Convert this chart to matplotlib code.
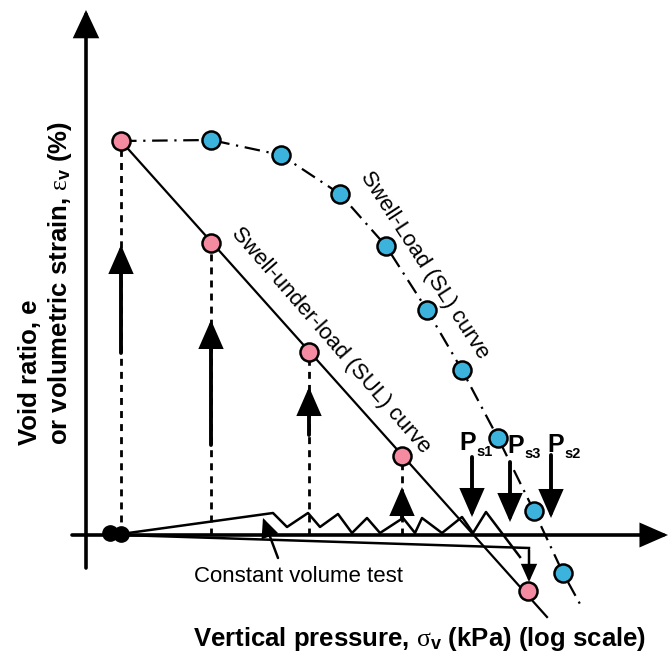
import matplotlib
matplotlib.use('Agg')
import matplotlib.pyplot as plt

plt.rcParams['font.family'] = ['Liberation Sans', 'DejaVu Sans']
plt.rcParams['mathtext.fontset'] = 'custom'
plt.rcParams['mathtext.it'] = 'Liberation Serif'
plt.rcParams['mathtext.rm'] = 'Liberation Serif'
plt.rcParams['mathtext.sf'] = 'Liberation Sans:bold'

# schematic units: x = log vertical pressure, y = volumetric strain
# swell-under-load (SUL) test points
sul_x = [3.5, 12.5, 22.3, 31.6, 44.2]
sul_y = [39.4, 29.2, 18.3, 7.9, -5.6]
sul_end = (46.1, -8.2)

# swell-load (SL) test points
sl_x = [12.5, 19.5, 25.4, 30.0, 34.1, 37.6, 41.2, 44.8, 47.7]
sl_y = [39.5, 38.0, 34.1, 28.9, 22.5, 16.5, 9.7, 2.4, -3.8]
sl_end = (49.4, -6.9)

# swelling under each SUL load
swell_from = [18.2, 9.0, 10.0, 1.7]
swell_to = [29.0, 21.5, 14.8, 4.8]

# swelling pressures Ps1, Ps3, Ps2
ps_labels = ['s1', 's3', 's2']
ps_x = [38.6, 42.4, 46.5]
ps_top = [7.8, 7.3, 8.0]
ps_tip = [1.8, 1.3, 1.7]

# constant volume test path
cv_x = [3.5, 18.7, 20.1, 22.2, 23.4, 25.2, 26.6, 28.1, 29.4, 31.7, 32.9, 33.6,
        35.6, 37.6, 38.7, 40.0, 43.4]
cv_y = [0.1, 2.2, 0.8, 2.2, 0.8, 2.1, 0.2, 1.7, 0.2, 1.7, 0.2, 1.7,
        0.2, 1.8, 0.2, 2.3, -2.2]
unload_x = [3.6, 44.3]
unload_y = [0.0, -1.3]
start_x = [2.4, 3.5]
start_y = [0.2, 0.1]

pink = '#F48BA0'
blue = '#3BB3DC'

fig = plt.figure(figsize=(6.68, 6.57), dpi=100)
ax = fig.add_axes([0, 0, 1, 1])
ax.set_xlim(-8.6, 58.2)
ax.set_ylim(-12.2, 53.5)
ax.axis('off')


def arrow(x0, y0, x1, y1, lw=2.8, hl=16, hw=7):
    ax.annotate('', xy=(x1, y1), xytext=(x0, y0),
                arrowprops=dict(arrowstyle='-|>,head_length=%g,head_width=%g' % (hl, hw),
                                mutation_scale=1, lw=lw, color='k',
                                shrinkA=0, shrinkB=0, joinstyle='miter'),
                zorder=4)


# axes
arrow(0, -3.3, 0, 52.5, lw=2.6, hl=16, hw=7.5)
arrow(-1.4, 0, 58.2, 0, lw=2.6, hl=16, hw=7)

# vertical dashed lines from SUL points
for i in range(4):
    ax.plot([sul_x[i], sul_x[i]], [0, sul_y[i]], color='k', lw=2,
            dashes=(2.5, 2.2), zorder=2)

# SUL straight line
ax.plot([sul_x[0], sul_end[0]], [sul_y[0], sul_end[1]], color='k', lw=1.6, zorder=3)

# SL dash-dot curve
ax.plot([sul_x[0]] + sl_x + [sl_end[0]], [sul_y[0]] + sl_y + [sl_end[1]],
        color='k', lw=1.6, dashes=(7, 3, 1, 3), zorder=3)

# constant volume test
ax.plot(cv_x, cv_y, color='k', lw=1.8, zorder=3)
ax.plot(unload_x, unload_y, color='k', lw=1.8, zorder=3)
arrow(unload_x[1], unload_y[1] - 0.2, unload_x[1], -4.7, lw=1.8, hl=10, hw=4.5)
ax.plot(start_x, start_y, 'o', color='k', ms=11, zorder=5)

# swell arrows
for i in range(4):
    arrow(sul_x[i], swell_from[i], sul_x[i], swell_to[i])

# swell pressure arrows
for i in range(3):
    arrow(ps_x[i], ps_top[i], ps_x[i], ps_tip[i])

# data points
ax.plot(sl_x, sl_y, 'o', ms=13, mfc=blue, mec='k', mew=1.8, zorder=6)
ax.plot(sul_x, sul_y, 'o', ms=13, mfc=pink, mec='k', mew=1.8, zorder=6)

# labels
ax.text(24.45, 19.5, 'Swell-under-load (SUL) curve', fontsize=16, rotation=-49,
        rotation_mode='anchor', ha='center', va='center')
ax.text(33.85, 27.0, 'Swell-Load (SL) curve', fontsize=16, rotation=-57,
        rotation_mode='anchor', ha='center', va='center')

p_pos = [(37.3, 8.5), (42.1, 8.2), (46.1, 8.3)]
for (px, py), lab in zip(p_pos, ps_labels):
    ax.text(px, py, 'P', fontsize=18, fontweight='bold', ha='left', va='baseline')
    ax.text(px + 1.75, py - 0.55, lab, fontsize=10.5, fontweight='bold',
            ha='left', va='baseline')

ax.text(21.2, -4.7, 'Constant volume test', fontsize=16, ha='center', va='baseline')
arrow(19.2, -2.3, 17.7, 1.7, lw=1.8, hl=11, hw=5)

ax.text(33.4, -11.1, r'Vertical pressure, $\sigma_{\mathsf{v}}$ (kPa) (log scale)',
        fontsize=18.5, fontweight='bold', ha='center', va='baseline')
ax.text(-4.9, 9.0, 'Void ratio, e', fontsize=18.5, fontweight='bold', rotation=90,
        rotation_mode='anchor', ha='left', va='baseline')
ax.text(-1.9, 9.0, r'or volumetric strain, $\varepsilon_{\mathsf{v}}$ (%)', fontsize=18.5,
        fontweight='bold', rotation=90, rotation_mode='anchor', ha='left', va='baseline')

fig.savefig('out.png', dpi=100)
